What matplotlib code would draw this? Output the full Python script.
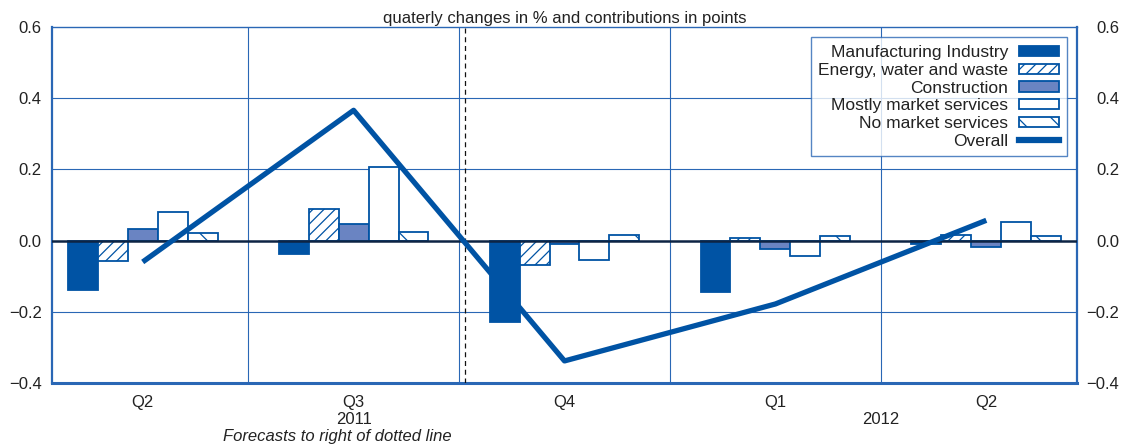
import matplotlib
matplotlib.use("Agg")
import matplotlib.pyplot as plt
import numpy as np
from matplotlib.lines import Line2D
from matplotlib.patches import Patch

quarters = ["Q2", "Q3", "Q4", "Q1", "Q2"]
series_names = ["Manufacturing Industry", "Energy, water and waste", "Construction",
                "Mostly market services", "No market services"]
manufacturing = [-0.140, -0.037, -0.229, -0.145, -0.009]
energy = [-0.056, 0.090, -0.068, 0.007, 0.016]
construction = [0.033, 0.048, -0.010, -0.023, -0.019]
mostly_market = [0.081, 0.208, -0.054, -0.042, 0.052]
no_market = [0.020, 0.025, 0.017, 0.014, 0.014]
overall = [-0.060, 0.366, -0.338, -0.178, 0.057]
ytick_vals = [-0.4, -0.2, 0.0, 0.2, 0.4, 0.6]
ytick_labels = ["\u22120.4", "\u22120.2", "0.0", "0.2", "0.4", "0.6"]

BLUE = "#0053a4"
GRID = "#2a67b5"
CONS = "#6a84c2"
TXT = "#222222"

plt.rcParams["font.family"] = ["Liberation Sans", "DejaVu Sans"]
plt.rcParams["hatch.color"] = BLUE
plt.rcParams["hatch.linewidth"] = 0.9

fig = plt.figure(figsize=(11.25, 4.45), dpi=100)
ax = fig.add_axes([52/1125, 1-383/445, (1077-52)/1125, (383-27)/445])

x = np.arange(len(quarters))
w = 0.142
styles = [
    dict(facecolor=BLUE, edgecolor=BLUE, hatch=None),
    dict(facecolor="white", edgecolor=BLUE, hatch="///"),
    dict(facecolor=CONS, edgecolor=BLUE, hatch=None),
    dict(facecolor="white", edgecolor=BLUE, hatch=None),
    dict(facecolor="white", edgecolor=BLUE, hatch="\\"),
]
data = [manufacturing, energy, construction, mostly_market, no_market]
handles = []
for i, (vals, st) in enumerate(zip(data, styles)):
    ax.bar(x + (i - 2) * w, vals, width=w, linewidth=1.3, zorder=2, **st)
    handles.append(Patch(linewidth=1.3, label=series_names[i], **st))

ax.axhline(0, color="#0d2444", linewidth=1.8, zorder=3)
ax.plot(x, overall, color=BLUE, linewidth=3.8, solid_capstyle="butt", zorder=4)
handles.append(Line2D([0], [0], color=BLUE, linewidth=4.5, label="Overall"))

ax.axvline(1.53, color="#111111", linewidth=0.9, linestyle=(0, (4, 3)), zorder=3)

ax.set_xlim(-0.43, 4.43)
ax.set_ylim(-0.4, 0.6)

for yv in [0.2, 0.4, -0.2]:
    ax.axhline(yv, color=GRID, linewidth=0.8, zorder=1)
for xv in [0.5, 1.5, 2.5, 3.5]:
    ax.axvline(xv, color=GRID, linewidth=0.8, zorder=1)

for s in ax.spines.values():
    s.set_color(GRID)
ax.spines["top"].set_linewidth(1.0)
ax.spines["left"].set_linewidth(1.6)
ax.spines["right"].set_linewidth(1.6)
ax.spines["bottom"].set_linewidth(2.2)

ax.set_yticks(ytick_vals)
ax.set_yticklabels(ytick_labels)
ax.tick_params(axis="y", which="both", length=0, labelsize=12, labelcolor=TXT,
               left=True, right=True, labelleft=True, labelright=True, pad=7.5)
ax.set_xticks(x)
ax.set_xticklabels(quarters)
ax.tick_params(axis="x", length=0, labelsize=12, labelcolor=TXT, pad=9)

fig.canvas.draw()
for t in ax.yaxis.get_major_ticks():
    t.label2.set_horizontalalignment("right")
    tr = t.label2.get_transform()
    t.label2.set_transform(tr + matplotlib.transforms.ScaledTranslation(32/100, 0, fig.dpi_scale_trans))

ax.set_title("quaterly changes in % and contributions in points", fontsize=12,
             color=TXT, pad=3)

trans = matplotlib.transforms.blended_transform_factory(ax.transData, fig.transFigure)
ax.text(1, 1-420/445, "2011", transform=trans, ha="center", va="center", fontsize=12, color=TXT)
ax.text(3.5, 1-420/445, "2012", transform=trans, ha="center", va="center", fontsize=12, color=TXT)
fig.text(337/1125, 1-437/445, "Forecasts to right of dotted line", ha="center", va="center",
         fontsize=12, style="italic", color=TXT)

leg = ax.legend(handles=handles, loc="upper right", markerfirst=False, fontsize=12.5,
                frameon=True, fancybox=False, handlelength=2.3, handleheight=0.55,
                handletextpad=0.6, labelspacing=0.155, borderpad=0.45,
                borderaxespad=0.6)
leg.get_frame().set_edgecolor(GRID)
leg.get_frame().set_linewidth(1.0)
for t in leg.get_texts():
    t.set_color(TXT)
leg.set_zorder(10)

fig.savefig("out.png", dpi=100)
